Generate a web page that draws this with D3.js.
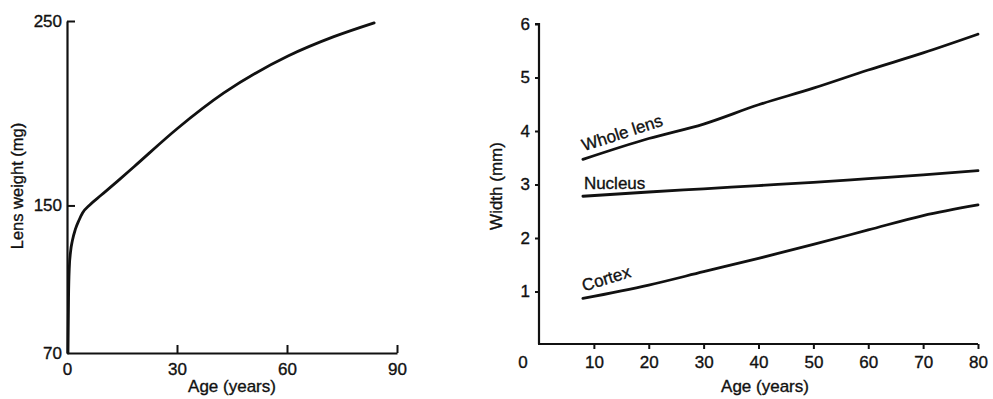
<!DOCTYPE html>
<html><head><meta charset="utf-8">
<script src="https://cdn.jsdelivr.net/npm/d3@7"></script>
<style>
body{margin:0;background:#fff;}
svg text{font-family:"Liberation Sans",Arial,Helvetica,sans-serif;fill:#111;stroke:#111;stroke-width:0.35px;}
</style></head><body>
<svg id="c" width="993" height="399"></svg>
<script>
// Left panel: lens weight vs age
const weightAge = [0, 0.15, 0.35, 0.7, 1.2, 2, 3, 4, 6, 9, 14, 18, 30, 42.5, 60, 72.5, 83.5];
const weightMg  = [70, 100, 116, 125, 131, 137, 142, 146, 150.4, 155.5, 164, 171, 192, 211, 231, 241.5, 249];
const leftXTicks = [0, 30, 60, 90];
const leftYTicks = [70, 150, 250];

// Right panel: width vs age
const widthAge   = [8, 20, 30, 40, 50, 60, 70, 80];
const wholeLens  = [3.47, 3.86, 4.13, 4.49, 4.80, 5.14, 5.46, 5.81];
const nucleus    = [2.78, 2.86, 2.92, 2.98, 3.04, 3.11, 3.18, 3.26];
const cortex     = [0.87, 1.12, 1.37, 1.62, 1.88, 2.15, 2.42, 2.62];
const rightXTicks = [10, 20, 30, 40, 50, 60, 70, 80];
const rightYTicks = [1, 2, 3, 4, 5, 6];
const seriesNames = ["Whole lens", "Nucleus", "Cortex"];

const svg = d3.select("#c");
const FS = 17;

function styleAxis(g){
  g.attr("font-family",null).attr("font-size",null);
  g.select(".domain").attr("stroke","#111").attr("stroke-width",2.2);
  g.selectAll(".tick line").attr("stroke","#111").attr("stroke-width",2);
  g.selectAll(".tick text").attr("font-size",FS).attr("fill","#111");
}

// ---------- Left chart ----------
const lx = d3.scaleLinear().domain([0,90]).range([67,397]);
const ly = d3.scaleLinear().domain([70,250]).range([353,21]);

const lxa = svg.append("g").attr("transform",`translate(0,${ly(70)})`)
  .call(d3.axisBottom(lx).tickValues(leftXTicks).tickFormat(d3.format("d"))
    .tickSize(-8).tickSizeOuter(0).tickPadding(10));
styleAxis(lxa);
lxa.selectAll(".tick").filter(d=>d===0).select("line").remove();

const lya = svg.append("g").attr("transform",`translate(${lx(0)},0)`)
  .call(d3.axisLeft(ly).tickValues(leftYTicks).tickFormat(d3.format("d"))
    .tickSize(-8).tickSizeOuter(0).tickPadding(5));
styleAxis(lya);
lya.selectAll(".tick").filter(d=>d===70).select("line").remove();

const weightData = weightAge.map((a,i)=>({a, w: weightMg[i]}));
svg.append("path").datum(weightData)
  .attr("fill","none").attr("stroke","#111").attr("stroke-width",2.8)
  .attr("stroke-linecap","round").attr("stroke-linejoin","round")
  .attr("d", d3.line().x(d=>lx(d.a)+1).y(d=>ly(d.w)).curve(d3.curveMonotoneX));

svg.append("text").attr("x",232).attr("y",392).attr("text-anchor","middle")
  .attr("font-size",FS).text("Age (years)");
svg.append("text").attr("transform","translate(23,186) rotate(-90)")
  .attr("text-anchor","middle").attr("font-size",16.5).text("Lens weight (mg)");

// ---------- Right chart ----------
const rx = d3.scaleLinear().domain([0,80]).range([539,978]);
const ry = d3.scaleLinear().domain([0,6]).range([345,24]);

const rxa = svg.append("g").attr("transform",`translate(0,344)`)
  .call(d3.axisBottom(rx).tickValues(rightXTicks).tickFormat(d3.format("d"))
    .tickSize(5).tickSizeOuter(0).tickPadding(7));
styleAxis(rxa);
rxa.select(".domain").attr("d",`M${rx(0)-1},0H${rx(80)}`);

const rya = svg.append("g").attr("transform",`translate(${rx(0)},0)`)
  .call(d3.axisLeft(ry).tickValues(rightYTicks).tickFormat(d3.format("d"))
    .tickSize(4).tickSizeOuter(0).tickPadding(5));
styleAxis(rya);
rya.select(".domain").attr("d",`M-4,${ry(6)}H0V344`);

svg.append("text").attr("x",rx(0)-16).attr("y",368).attr("text-anchor","middle")
  .attr("font-size",FS).text("0");

const line = d3.line().x(d=>rx(d[0])).y(d=>ry(d[1])).curve(d3.curveMonotoneX);
[wholeLens, nucleus, cortex].forEach(vals=>{
  svg.append("path").datum(widthAge.map((a,i)=>[a, vals[i]]))
    .attr("fill","none").attr("stroke","#111").attr("stroke-width",2.8)
    .attr("stroke-linecap","round").attr("d", line);
});

// series labels
svg.append("text").attr("transform",`translate(${rx(8)+1},${ry(wholeLens[0])-8}) rotate(-18)`)
  .attr("font-size",FS).text(seriesNames[0]);
svg.append("text").attr("x",rx(8)+1).attr("y",189)
  .attr("font-size",FS).text(seriesNames[1]);
svg.append("text").attr("transform",`translate(${rx(8)+1},${ry(cortex[0])-7}) rotate(-17)`)
  .attr("font-size",FS).text(seriesNames[2]);

svg.append("text").attr("x",765).attr("y",392).attr("text-anchor","middle")
  .attr("font-size",FS).text("Age (years)");
svg.append("text").attr("transform","translate(502,186) rotate(-90)")
  .attr("text-anchor","middle").attr("font-size",17).text("Width (mm)");
</script>
</body></html>
